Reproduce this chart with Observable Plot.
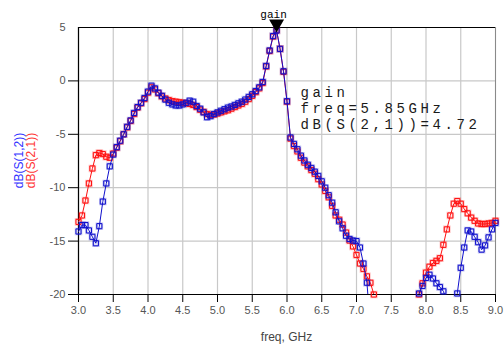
<!DOCTYPE html>
<html>
<head>
<meta charset="utf-8">
<script src="https://cdn.jsdelivr.net/npm/d3@7"></script>
<script src="https://cdn.jsdelivr.net/npm/@observablehq/plot@0.6"></script>
<style>
  html, body { margin: 0; padding: 0; background: #fff; }
</style>
</head>
<body>
<div id="chart"></div>
<script>
// Frequency sweep (GHz)
const freq = [
  3.00,3.05,3.10,3.15,3.20,3.25,3.30,3.35,3.40,3.45,
  3.50,3.55,3.60,3.65,3.70,3.75,3.80,3.85,3.90,3.95,
  4.00,4.05,4.10,4.15,4.20,4.25,4.30,4.35,4.40,4.45,
  4.50,4.55,4.60,4.65,4.70,4.75,4.80,4.85,4.90,4.95,
  5.00,5.05,5.10,5.15,5.20,5.25,5.30,5.35,5.40,5.45,
  5.50,5.55,5.60,5.65,5.70,5.75,5.80,5.85,5.90,5.95,
  6.00,6.05,6.10,6.15,6.20,6.25,6.30,6.35,6.40,6.45,
  6.50,6.55,6.60,6.65,6.70,6.75,6.80,6.85,6.90,6.95,
  7.00,7.05,7.10,7.15,7.20,7.25,7.30,7.35,7.40,7.45,
  7.50,7.55,7.60,7.65,7.70,7.75,7.80,7.85,7.90,7.95,
  8.00,8.05,8.10,8.15,8.20,8.25,8.30,8.35,8.40,8.45,
  8.50,8.55,8.60,8.65,8.70,8.75,8.80,8.85,8.90,8.95,
  9.00
];

// dB(S(1,2)) — blue
const s12 = [
  -14.1,-13.5,-13.5,-14.0,-14.6,-15.2,-13.6,-11.3,-9.6,-8.0,
  -6.9,-6.2,-5.6,-5.0,-4.3,-3.7,-3.0,-2.45,-2.05,-1.6,
  -1.0,-0.45,-0.7,-1.1,-1.4,-1.75,-2.05,-2.2,-2.3,-2.3,
  -2.2,-2.05,-1.85,-1.95,-2.35,-2.6,-2.95,-3.4,-3.3,-3.1,
  -2.95,-2.8,-2.65,-2.5,-2.4,-2.25,-2.1,-1.95,-1.75,-1.5,
  -1.25,-0.95,-0.6,-0.1,1.4,2.85,4.2,4.72,3.0,0.9,
  -1.9,-5.3,-5.9,-6.4,-7.0,-7.45,-7.85,-8.15,-8.5,-8.9,
  -9.4,-10.0,-10.7,-11.4,-12.3,-13.15,-13.8,-14.5,-14.8,-14.95,
  -15.0,-15.6,-17.1,-18.9,-23,-25,-25,-25,-25,-25,
  -25,-25,-25,-25,-25,-25,-25,-23,-19.9,-19.2,
  -18.45,-18.15,-18.5,-18.95,-19.3,-19.7,-20.6,-23,-23,-19.9,
  -17.5,-15.6,-14.0,-14.1,-14.6,-15.1,-15.8,-15.4,-14.65,-13.9,
  -13.3
];

// dB(S(2,1)) — red
const s21 = [
  -13.2,-12.6,-11.2,-9.6,-8.2,-6.95,-6.75,-6.85,-7.1,-7.2,
  -6.8,-6.25,-5.65,-5.0,-4.35,-3.75,-3.1,-2.5,-2.1,-1.7,
  -1.1,-0.6,-0.8,-1.15,-1.45,-1.65,-1.8,-1.9,-1.95,-2.0,
  -2.05,-2.1,-2.15,-2.25,-2.45,-2.7,-2.9,-3.1,-3.2,-3.15,
  -3.05,-2.95,-2.85,-2.75,-2.6,-2.45,-2.3,-2.15,-1.95,-1.7,
  -1.4,-1.05,-0.7,-0.2,1.35,2.8,4.15,4.72,3.0,0.85,
  -1.95,-5.4,-6.1,-6.6,-7.2,-7.65,-8.0,-8.35,-8.7,-9.2,
  -9.7,-10.3,-10.9,-11.7,-12.6,-13.0,-13.45,-14.2,-14.95,-15.5,
  -16.3,-17.1,-17.6,-18.3,-18.9,-20.0,-23,-25,-25,-25,
  -25,-25,-25,-25,-25,-25,-25,-23,-20.0,-18.95,
  -17.95,-17.4,-17.05,-16.85,-16.6,-15.35,-13.9,-12.6,-11.5,-11.25,
  -11.5,-12.0,-12.4,-12.8,-13.1,-13.35,-13.4,-13.4,-13.35,-13.3,
  -13.1
];

const xTicks = [3.0,3.5,4.0,4.5,5.0,5.5,6.0,6.5,7.0,7.5,8.0,8.5,9.0];
const yTicks = [-20,-15,-10,-5,0,5];

// marker "gain"
const markerName = "gain";
const markerFreq = 5.85;
const markerValue = 4.72;

const red = freq.map((f, i) => ({f, v: s21[i]}));
const blue = freq.map((f, i) => ({f, v: s12[i]}));
const inView = d => d.v >= -20.3;

const redColor = "#ff1010";
const blueColor = "#1010cc";

const downTriangle = {
  draw(ctx) {
    ctx.moveTo(-7.5, -11);
    ctx.lineTo(7.5, -11);
    ctx.lineTo(0, 2);
    ctx.closePath();
  }
};

const readoutLines = [
  markerName,
  `freq=${markerFreq.toFixed(2)}GHz`,
  `dB(S(2,1))=${markerValue.toFixed(2)}`
];

const chart = Plot.plot({
  width: 504,
  height: 347,
  marginLeft: 78,
  marginRight: 9,
  marginTop: 27,
  marginBottom: 53,
  x: {domain: [3, 9]},
  y: {domain: [-20, 5]},
  style: {fontFamily: "'Liberation Sans', Arial, sans-serif", fontSize: "11px", background: "#fff", overflow: "visible"},
  marks: [
    Plot.gridX(xTicks, {stroke: "#c8c8c8", strokeOpacity: 1, strokeWidth: 1.2}),
    Plot.gridY(yTicks, {stroke: "#c8c8c8", strokeOpacity: 1, strokeWidth: 1.2}),
    Plot.ruleX([9], {stroke: "#8a8a8a"}),
    Plot.ruleX([3], {stroke: "#000", strokeWidth: 1.2}),
    Plot.ruleY([-20], {stroke: "#000", strokeWidth: 1.2}),
    Plot.ruleY([5], {stroke: "#000", strokeWidth: 1.2}),
    Plot.axisX({ticks: xTicks, tickSize: 8, tickPadding: 4, tickFormat: d => d.toFixed(1), stroke: "#000", fill: "#555", label: null}),
    Plot.axisY({ticks: yTicks.filter(d => d < 5), tickSize: 10, tickPadding: 3, tickFormat: d => String(d), stroke: "#000", fill: "#555", label: null}),
    Plot.axisY({ticks: [5], tickSize: 0, tickPadding: 13, tickFormat: d => String(d), fill: "#555", label: null}),
    Plot.line(red, {x: "f", y: "v", stroke: redColor, strokeWidth: 1, clip: true}),
    Plot.dot(red.filter(inView), {x: "f", y: "v", symbol: "square", r: 2.9, stroke: redColor, fill: "none", strokeWidth: 2.4, strokeOpacity: 0.25}),
    Plot.dot(red.filter(inView), {x: "f", y: "v", symbol: "square", r: 2.9, stroke: redColor, fill: "none", strokeWidth: 1}),
    Plot.line(blue, {x: "f", y: "v", stroke: blueColor, strokeWidth: 1, clip: true}),
    Plot.dot(blue.filter(inView), {x: "f", y: "v", symbol: "square", r: 2.9, stroke: blueColor, fill: "none", strokeWidth: 2.4, strokeOpacity: 0.25}),
    Plot.dot(blue.filter(inView), {x: "f", y: "v", symbol: "square", r: 2.9, stroke: blueColor, fill: "none", strokeWidth: 1}),
    Plot.dot([{f: markerFreq, v: markerValue}], {x: "f", y: "v", symbol: downTriangle, fill: "#000", stroke: "none"}),
    Plot.text([{f: markerFreq, v: markerValue}], {x: "f", y: "v", text: () => markerName, textAnchor: "middle", lineAnchor: "bottom", dx: -3, dy: -12.6, fontFamily: "'Liberation Mono', monospace", fontSize: 11, fill: "#000"}),
    ...readoutLines.map((line, i) =>
      Plot.text([{f: markerFreq, v: markerValue}], {
        x: "f", y: "v",
        text: () => line,
        textAnchor: "start", lineAnchor: "bottom",
        dx: 24, dy: 66.5 + i * 16,
        fontFamily: "'Liberation Mono', monospace", fontSize: 14, fill: "#1a1a1a",
        className: "readout"
      })
    )
  ]
});

const svg = d3.select(chart);
svg.selectAll(".readout text").style("letter-spacing", "3.6px");

svg.append("text")
  .attr("transform", "translate(23,160.5) rotate(-90)")
  .attr("text-anchor", "middle")
  .attr("font-family", "'Liberation Sans', Arial, sans-serif")
  .attr("font-size", 12)
  .attr("fill", "#3333ff")
  .text("dB(S(1,2))");
svg.append("text")
  .attr("transform", "translate(34.5,160.5) rotate(-90)")
  .attr("text-anchor", "middle")
  .attr("font-family", "'Liberation Sans', Arial, sans-serif")
  .attr("font-size", 12)
  .attr("fill", "#ff3333")
  .text("dB(S(2,1))");
svg.append("text")
  .attr("x", 286.5)
  .attr("y", 341)
  .attr("text-anchor", "middle")
  .attr("font-family", "'Liberation Sans', Arial, sans-serif")
  .attr("font-size", 12)
  .attr("fill", "#444")
  .text("freq, GHz");

document.getElementById("chart").appendChild(chart);
</script>
</body>
</html>
